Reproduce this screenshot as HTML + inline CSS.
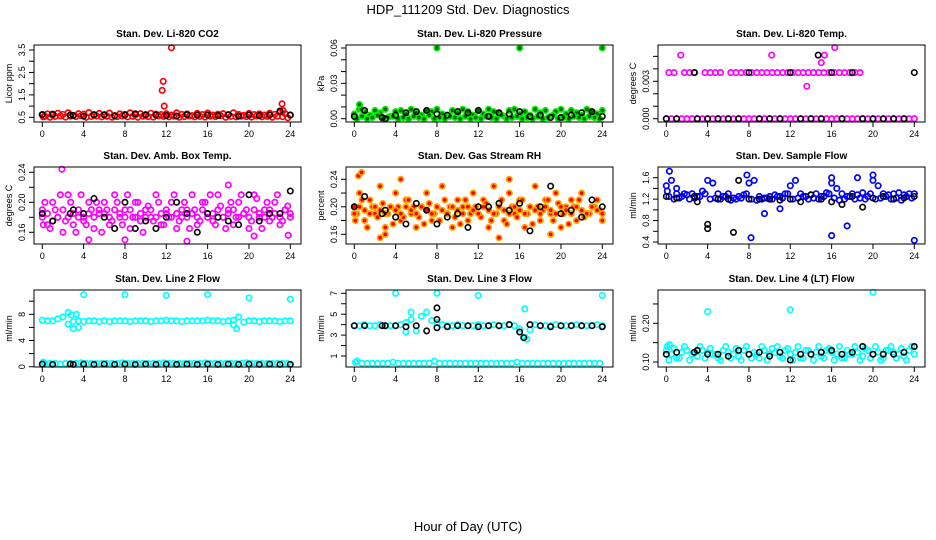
<!DOCTYPE html>
<html><head><meta charset="utf-8"><style>
html,body{margin:0;padding:0;background:#fff}
svg{display:block;font-family:"Liberation Sans",Arial,sans-serif}
</style></head><body>
<svg id="c" width="936" height="540" viewBox="0 0 936 540">
<text x="468" y="14" text-anchor="middle" font-size="13">HDP_111209  Std. Dev. Diagnostics</text>
<text x="468" y="531" text-anchor="middle" font-size="13">Hour of Day (UTC)</text>
</svg>
<script>
const hours49=[0,0.5,1,1.5,2,2.5,3,3.5,4,4.5,5,5.5,6,6.5,7,7.5,8,8.5,9,9.5,10,10.5,11,11.5,12,12.5,13,13.5,14,14.5,15,15.5,16,16.5,17,17.5,18,18.5,19,19.5,20,20.5,21,21.5,22,22.5,23,23.5,24];
const hoursQ=[0.1,0.25,0.75,1.25,1.75,2.25,2.75,3.25,3.75,4.25,4.75,5.25,5.75,6.25,6.75,7.25,7.75,8.25,8.75,9.25,9.75,10.25,10.75,11.25,11.75,12.25,12.75,13.25,13.75,14.25,14.75,15.25,15.75,16.25,16.75,17.25,17.75,18.25,18.75,19.25,19.75,20.25,20.75,21.25,21.75,22.25,22.75,23.25,23.75];
const hours25=[0,1,2.7,3,4,5,6,7,8,9,10,11,12,13,14,15,16,17,18,19,20,21,22,23,24];
const xTicks=[0,4,8,12,16,20,24];
const titles=["Stan. Dev. Li-820 CO2","Stan. Dev. Li-820 Pressure","Stan. Dev. Li-820 Temp.","Stan. Dev. Amb. Box Temp.","Stan. Dev. Gas Stream RH","Stan. Dev. Sample Flow","Stan. Dev. Line 2 Flow","Stan. Dev. Line 3 Flow","Stan. Dev. Line 4 (LT) Flow"];
const yTitles=["Licor ppm","kPa","degrees C","degrees C","percent","ml/min","ml/min","ml/min","ml/min"];
const colors=["#ff0000","#00ee00","#ff00ff","#ff00ff","#ffa500","#0000ff","#00ffff","#00ffff","#00ffff"];
const yTicks=[[0.5,1,1.5,2,2.5,3,3.5],[0,0.01,0.02,0.03,0.04,0.05,0.06],[0,0.001,0.002,0.003,0.004,0.005],[0.16,0.18,0.2,0.22,0.24],[0.16,0.18,0.2,0.22,0.24],[0.4,0.6,0.8,1,1.2,1.4,1.6],[0,2,4,6,8,10],[1,2,3,4,5,6,7],[0.1,0.15,0.2,0.25]];
const yLabels=[["0.5","1.5","2.5","3.5"],["0.00","0.03","0.06"],["0.000","0.003"],["0.16","0.20","0.24"],["0.16","0.20","0.24"],["0.4","0.8","1.2","1.6"],["0","4","8"],["1","3","5","7"],["0.10","0.20"]];
const yLabelVals=[[0.5,1.5,2.5,3.5],[0,0.03,0.06],[0,0.003],[0.16,0.2,0.24],[0.16,0.2,0.24],[0.4,0.8,1.2,1.6],[0,4,8],[1,3,5,7],[0.1,0.2]];
const co2A=[0.62,0.65,0.6,0.68,0.63,0.7,0.58,0.66,0.64,0.71,0.6,0.67,0.62,0.69,0.57,0.65,0.63,0.7,0.61,0.66,0.59,0.68,0.64,0.62,0.66,0.6,0.7,0.63,0.65,0.58,0.67,0.62,0.69,0.6,0.64,0.66,0.61,0.7,0.63,0.59,0.67,0.62,0.65,0.6,0.68,0.63,0.72,0.66,0.6];
const co2B=[0.52,0.55,0.5,0.54,0.56,0.51,0.55,0.53,0.57,0.5,0.54,0.56,0.52,0.55,0.5,0.53,0.56,0.52,0.54,0.5,0.55,0.53,0.51,0.56,0.54,0.52,0.55,0.5,0.53,0.56,0.52,0.54,0.51,0.55,0.53,0.57,0.5,0.54,0.52,0.55,0.53,0.51,0.56,0.52,0.54,0.5,0.55,0.53,0.48];
const presA=[0.004,0.008,0.006,0.003,0.007,0.005,0.008,0.002,0.006,0.007,0.004,0.008,0.005,0.003,0.007,0.006,0.008,0.004,0.002,0.007,0.005,0.008,0.006,0.003,0.007,0.004,0.008,0.006,0.005,0.002,0.007,0.008,0.004,0.006,0.003,0.008,0.005,0.007,0.002,0.006,0.008,0.004,0.007,0.005,0.003,0.008,0.006,0.004,0.007];
const presB=[0.001,0,0.002,0,0.001,0.003,0,0.001,0.002,0,0.001,0,0.002,0.001,0,0.003,0,0.001,0,0.002,0.001,0,0.002,0,0.001,0,0.002,0.001,0,0.003,0,0.001,0.002,0,0.001,0,0.002,0,0.001,0.003,0,0.001,0,0.002,0.001,0,0.002,0.001,0];
const tempA=[0,0,0,0,0,0,0,0,0,0,0,0,0,0,0,0,0,0,0,0,0,0,0,0,0,0,0,0,0,0,0,0,0,0,0,0,0,0,0,0,0,0,0,0,0,0,0,0,0];
const tempB=[null,0.0037,0.0037,null,0.0037,0.0037,0.0037,null,0.0037,0.0037,0.0037,0.0037,null,0.0037,0.0037,0.0037,0.0037,0.0037,0.0037,0.0037,0.0037,0.0037,0.0037,0.0037,0.0037,0.0037,0.0037,0.0037,0.0037,0.0037,0.0037,0.0037,0.0037,0.0037,0.0037,0.0037,0.0037,0.0037,0.0037,null,null,null,null,null,null,null,null,null,null];
const ambA=[0.19,0.17,0.2,0.18,0.16,0.21,0.17,0.19,0.18,0.2,0.165,0.185,0.2,0.17,0.21,0.18,0.19,0.165,0.2,0.175,0.19,0.18,0.21,0.17,0.185,0.2,0.165,0.19,0.18,0.21,0.17,0.2,0.185,0.175,0.21,0.18,0.19,0.17,0.2,0.185,0.165,0.21,0.18,0.19,0.175,0.2,0.17,0.19,0.18];
const ambB=[0.17,0.2,0.165,0.19,0.21,0.175,0.2,0.16,0.21,0.17,0.19,0.2,0.16,0.19,0.175,0.2,0.17,0.21,0.18,0.2,0.16,0.195,0.175,0.2,0.17,0.18,0.21,0.175,0.2,0.165,0.19,0.175,0.2,0.21,0.17,0.195,0.165,0.2,0.18,0.21,0.19,0.175,0.205,0.165,0.2,0.18,0.21,0.175,0.195];
const ambC=[0.18,0.185,0.175,0.18,0.19,0.18,0.185,0.18,0.175,0.185,0.18,0.19,0.185,0.18,0.19,0.185,0.18,0.19,0.18,0.185,0.18,0.19,0.18,0.185,0.19,0.18,0.185,0.18,0.19,0.185,0.18,0.19,0.18,0.185,0.19,0.18,0.185,0.19,0.18,0.185,0.18,0.19,0.185,0.18,0.19,0.185,0.18,0.19,0.185];
const rhA=[0.2,0.22,0.18,0.21,0.19,0.23,0.17,0.2,0.22,0.18,0.21,0.19,0.17,0.2,0.22,0.18,0.2,0.23,0.19,0.17,0.21,0.2,0.18,0.22,0.19,0.21,0.17,0.23,0.2,0.18,0.22,0.19,0.21,0.17,0.2,0.23,0.18,0.21,0.19,0.22,0.17,0.2,0.21,0.18,0.22,0.19,0.2,0.21,0.18];
const rhB=[0.18,0.19,0.21,0.17,0.2,0.185,0.205,0.19,0.175,0.2,0.185,0.21,0.2,0.185,0.175,0.205,0.19,0.18,0.21,0.2,0.185,0.175,0.21,0.19,0.2,0.185,0.205,0.18,0.19,0.21,0.175,0.2,0.185,0.21,0.19,0.175,0.2,0.195,0.21,0.18,0.205,0.19,0.175,0.2,0.21,0.185,0.19,0.2,0.195];
const rhC=[0.19,0.2,0.195,0.19,0.2,0.195,0.19,0.2,0.195,0.19,0.2,0.195,0.19,0.2,0.195,0.19,0.2,0.195,0.19,0.2,0.195,0.19,0.2,0.195,0.19,0.2,0.195,0.19,0.2,0.195,0.19,0.2,0.195,0.19,0.2,0.195,0.19,0.2,0.195,0.19,0.2,0.195,0.19,0.2,0.195,0.19,0.2,0.195,0.19];
const flowA=[1.45,1.55,1.3,1.25,1.28,1.3,1.25,1.35,1.55,1.5,1.3,1.25,1.3,1.22,1.25,1.28,1.5,1.55,1.25,1.22,1.25,1.28,1.25,1.3,1.45,1.55,1.3,1.25,1.28,1.3,1.25,1.32,1.5,1.4,1.3,1.25,1.3,1.28,1.32,1.25,1.55,1.45,1.3,1.28,1.3,1.32,1.28,1.3,1.3];
const flowB=[1.35,1.25,1.2,1.22,1.3,1.2,1.22,1.25,1.3,1.2,1.22,1.2,1.25,1.18,1.2,1.22,1.3,1.2,1.18,1.2,1.22,1.2,1.25,1.22,1.3,1.2,1.22,1.25,1.2,1.22,1.2,1.25,1.3,1.22,1.18,1.2,1.25,1.2,1.22,1.2,1.3,1.2,1.22,1.25,1.2,1.22,1.18,1.25,1.22];
const l2A=[7.1,7.0,7.0,7.3,7.6,8.3,6.9,7.0,6.9,7.0,7.0,6.9,7.0,6.9,7.0,7.0,7.0,6.9,7.0,7.0,7.0,6.9,7.0,7.0,7.1,7.0,7.0,6.9,7.0,7.0,7.0,7.0,7.1,7.0,7.0,6.9,7.0,7.1,7.6,6.8,7.0,7.0,6.9,7.0,7.0,7.0,6.9,7.0,7.0];
const l2B=[0.7,0.5,0.5,0.5,0.4,0.5,0.5,0.5,0.6,0.5,0.5,0.5,0.5,0.5,0.5,0.5,0.6,0.5,0.5,0.5,0.5,0.5,0.5,0.5,0.6,0.5,0.5,0.5,0.5,0.5,0.5,0.5,0.6,0.5,0.5,0.5,0.5,0.5,0.5,0.5,0.6,0.5,0.5,0.5,0.5,0.5,0.5,0.5,0.5];
const l3A=[3.9,3.9,4.0,3.9,3.9,4.0,3.9,3.9,3.9,4.0,4.2,4.5,3.4,4.8,5.2,4.4,4.2,4.0,3.9,3.9,4.0,3.9,3.9,3.9,4.0,3.9,3.9,4.0,3.9,3.9,4.0,3.9,3.6,2.8,3.5,4.0,3.9,3.9,3.9,4.0,3.9,3.9,3.9,4.0,3.9,3.9,3.9,4.0,3.9];
const l3B=[0.4,0.5,0.3,0.3,0.3,0.3,0.3,0.3,0.4,0.3,0.3,0.3,0.3,0.3,0.3,0.3,0.5,0.3,0.3,0.3,0.3,0.3,0.3,0.3,0.3,0.3,0.3,0.3,0.3,0.3,0.3,0.3,0.4,0.3,0.3,0.3,0.3,0.3,0.3,0.3,0.3,0.3,0.3,0.3,0.3,0.3,0.3,0.3,0.3];
const l4A=[0.13,0.12,0.11,0.125,0.13,0.12,0.115,0.13,0.125,0.12,0.11,0.13,0.125,0.12,0.115,0.13,0.12,0.125,0.11,0.13,0.12,0.125,0.115,0.13,0.12,0.125,0.11,0.13,0.12,0.125,0.115,0.13,0.125,0.12,0.11,0.13,0.12,0.125,0.115,0.13,0.12,0.125,0.11,0.13,0.125,0.12,0.115,0.13,0.12];
const l4B=[0.14,0.105,0.135,0.11,0.14,0.105,0.125,0.14,0.11,0.135,0.12,0.105,0.14,0.11,0.135,0.105,0.14,0.11,0.12,0.14,0.105,0.135,0.14,0.11,0.135,0.105,0.14,0.11,0.13,0.105,0.14,0.11,0.135,0.105,0.14,0.11,0.12,0.14,0.105,0.135,0.11,0.14,0.105,0.13,0.14,0.11,0.135,0.105,0.14];
const co2K=[0.62,0.64,0.6,0.58,0.55,0.62,0.6,0.57,0.6,0.66,0.62,0.6,0.58,0.56,0.62,0.6,0.6,0.58,0.62,0.55,0.6,0.58,0.6,0.78,0.6];
const presK=[0.002,0.007,0.001,0,0.003,0.005,0.006,0.007,0.004,0.003,0.006,0.005,0.007,0.002,0.005,0.004,0.006,0.002,0.003,0.001,0.001,0.003,0.005,0.006,0.002];
const tempK=[0,0,0.0037,0,0,0,0,0,0.0037,0,0,0,0.0037,0,0,0,0.0037,0,0.0037,0,0,0,0,0,0.0037];
const ambK=[0.185,0.175,0.185,0.19,0.185,0.205,0.18,0.165,0.2,0.165,0.175,0.165,0.18,0.2,0.185,0.16,0.185,0.18,0.175,0.17,0.21,0.175,0.185,0.185,0.215];
const rhK=[0.2,0.215,0.19,0.195,0.185,0.175,0.205,0.195,0.175,0.185,0.19,0.17,0.2,0.2,0.205,0.195,0.205,0.165,0.2,0.23,0.19,0.195,0.185,0.21,0.2];
const flowK=[1.25,1.22,1.25,1.15,0.65,1.2,1.2,1.55,1.2,1.2,1.2,1.18,1.2,1.15,1.28,1.2,1.15,1.1,1.25,1.05,1.22,1.25,1.2,1.22,1.25];
const l2K=[0.4,0.35,0.4,0.35,0.4,0.35,0.4,0.35,0.4,0.35,0.4,0.35,0.4,0.35,0.4,0.35,0.4,0.35,0.4,0.35,0.4,0.35,0.4,0.35,0.35];
const l3K=[3.9,3.9,3.9,3.9,3.9,3.8,3.9,3.4,3.7,3.8,3.9,3.9,3.8,3.9,3.9,4.0,3.3,4.0,3.9,3.8,3.9,3.9,3.9,3.9,3.8];
const l4K=[0.12,0.125,0.125,0.13,0.12,0.12,0.115,0.13,0.12,0.125,0.115,0.125,0.105,0.12,0.12,0.125,0.13,0.12,0.125,0.14,0.12,0.12,0.12,0.125,0.14];
const outH=[[11.6,11.7,11.8,12.5,23.2,23.3],[0.5,0.7,8,16,24],[1.4,10.2,15.3,16.3,15,13.6],[1.9,4.5,8,14,18,20.5,23.8],[0.4,0.7,2.5,3,4.5,14,15,19],[0.3,7.8,16,20,18.5,8.2,16,17.5,24,9.5,11,1],[4,8,12,16,20,24,2.5,3,3.5,2.8,3.3,18.8,18.5],[4,8,12,24,16.5,16.7,5,5.5],[4,12,20,0.3]];
const outV=[[1.7,2.1,1.0,3.6,1.1,0.8],[0.012,0.008,0.06,0.06,0.06],[0.0051,0.0051,0.0051,0.0057,0.0045,0.0026],[0.244,0.15,0.15,0.148,0.223,0.155,0.156],[0.245,0.25,0.155,0.16,0.24,0.155,0.24,0.16],[1.72,1.65,1.6,1.65,1.6,0.48,0.52,0.7,0.43,0.93,1.02,1.4],[11,11,10.9,11,10.5,10.3,6.5,5.8,6.0,7.9,8.0,5.8,6.4],[7,7,6.8,6.8,5.5,2.6,3.3,5.2],[0.23,0.235,0.28,0.145]];
const outKH=[[],[],[14.7],[],[],[4,6.5],[],[8,8,16.4],[]];
const outKV=[[],[],[0.0051],[],[],[0.73,0.58],[],[5.6,4.5,2.75],[]];
const colSeries=[[co2A,co2B],[presA,presB],[tempA,tempB],[ambA,ambB,ambC],[rhA,rhB,rhC],[flowA,flowB],[l2A,l2B],[l3A,l3B],[l4A,l4B]];
const blkSeries=[co2K,presK,tempK,ambK,rhK,flowK,l2K,l3K,l4K];
const yCal=[[0.5,117.3,3.5,50],[0,118.7,0.06,48],[0,118.7,0.003,81.3],[0.16,232.3,0.24,172.3],[0.16,234.3,0.24,179.3],[0.4,242,1.6,177.7],[0,366.7,8,314.3],[1,356,7,293.3],[0.1,362,0.2,323.3]];

const svg=document.getElementById('c');
const NS='http://www.w3.org/2000/svg';
function el(tag,attrs,parent){const e=document.createElementNS(NS,tag);for(const k in attrs)e.setAttribute(k,attrs[k]);(parent||svg).appendChild(e);return e;}
const colX=[34,346,658], rowY=[45,167,290], W=267, H=77;
for(let p=0;p<9;p++){
  const bx=colX[p%3], by=rowY[Math.floor(p/3)];
  const g=el('g',{});
  
  
  const xs=h=>bx+8.3+h*(248/24);
  const c=yCal[p];
  const ys=v=>c[1]+(v-c[0])*(c[3]-c[1])/(c[2]-c[0]);
  const t=el('text',{x:bx+W/2,y:by-8,'text-anchor':'middle','font-size':10,'font-weight':'bold'},g);
  t.textContent=titles[p];
  
  
  const pts=el('g',{fill:'none',stroke:colors[p],'stroke-width':1.7},g);
  
  
  const drawPt=(h,v,parent,extra)=>{if(v===null||v===undefined)return;const ci=el('circle',{cx:xs(h),cy:ys(v),r:2.7},parent);if(extra)ci.setAttribute('fill',extra);};
  const fillC = p===4?'#ff0000':(p===1?'#006600':null);
  colSeries[p].forEach((s,si)=>{const hs=(si===1)?hoursQ:hours49;s.forEach((v,i)=>drawPt(hs[i],v,pts,fillC));});
  outH[p].forEach((h,i)=>drawPt(h,outV[p][i],pts,fillC));
  const bk=el('g',{fill:'none',stroke:'#000','stroke-width':1.6},g);
  
  
  blkSeries[p].forEach((v,i)=>drawPt(hours25[i],v,bk));
  outKH[p].forEach((h,i)=>drawPt(h,outKV[p][i],bk));
  const r=el('rect',{x:bx,y:by,width:W,height:H,fill:'none',stroke:'#000','stroke-width':1},g);
  
  
  xTicks.forEach(h=>{
    el('line',{x1:xs(h),x2:xs(h),y1:by+H,y2:by+H+5,stroke:'#000'},g);
    const tx=el('text',{x:xs(h),y:by+H+15,'text-anchor':'middle','font-size':9},g);
    tx.textContent=h;
    
    
  });
  yTicks[p].forEach(v=>el('line',{x1:bx-5,x2:bx,y1:ys(v),y2:ys(v),stroke:'#000'},g));
  yLabelVals[p].forEach((v,i)=>{
    const tx=el('text',{x:bx-9,y:ys(v),'text-anchor':'middle','font-size':9,transform:`rotate(-90 ${bx-9} ${ys(v)})`},g);
    tx.textContent=yLabels[p][i];
    
    
  });
  const yt=el('text',{x:bx-22,y:by+H/2,'text-anchor':'middle','font-size':9,transform:`rotate(-90 ${bx-22} ${by+H/2})`},g);
  yt.textContent=yTitles[p];
  
  
}
</script>
</body></html>
